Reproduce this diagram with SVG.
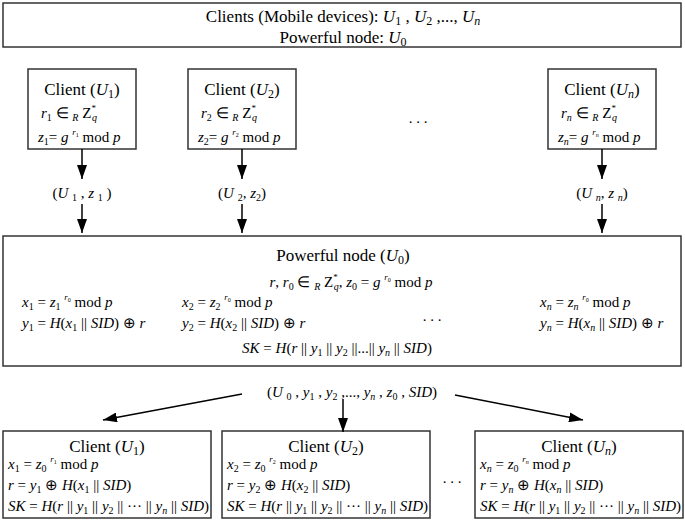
<svg xmlns="http://www.w3.org/2000/svg" width="685" height="521" viewBox="0 0 685 521">
<defs>
<style>
text { font-family: "Liberation Serif", "Times New Roman", serif; fill: #000; }
.t { font-size: 17px; }
.f { font-size: 15px; }
.i { font-style: italic; }
.sb { font-size: 10px; baseline-shift: -3px; }
.tb { font-size: 12px; baseline-shift: -3px; }
.sp { font-size: 9px; baseline-shift: 7px; }
.ss { font-size: 6px; baseline-shift: 5px; }
.box { fill: #fff; stroke: #333; stroke-width: 1.5; }
.arr { stroke: #000; stroke-width: 1.5; fill: none; marker-end: url(#ah); }
</style>
<marker id="ah" viewBox="0 0 14 10" markerWidth="14" markerHeight="10" refX="14" refY="5" orient="auto" markerUnits="userSpaceOnUse">
<path d="M0,0 L14,5 L0,10 z" fill="#000"/>
</marker>
</defs>
<rect width="685" height="521" fill="#fff"/>

<g id="header">
<rect class="box" x="3" y="3" width="678" height="44"/>
<text class="t" x="343" y="22" text-anchor="middle">Clients (Mobile devices): <tspan class="i">U</tspan><tspan class="tb">1</tspan> , <tspan class="i">U</tspan><tspan class="tb">2</tspan> ,..., <tspan class="i">U</tspan><tspan class="tb i">n</tspan></text>
<text class="t" x="343" y="43" text-anchor="middle">Powerful node: <tspan class="i">U</tspan><tspan class="tb">0</tspan></text>
</g>

<g id="client1">
<rect class="box" x="28" y="69" width="108" height="80"/>
<text class="t" x="82" y="95" text-anchor="middle">Client (<tspan class="i">U</tspan><tspan class="tb">1</tspan>)</text>
<text class="f" x="41" y="118"><tspan class="i">r</tspan><tspan class="sb">1</tspan> ∈ <tspan class="sb i">R</tspan> Z<tspan class="sp">*</tspan><tspan class="sb i" dx="-4">q</tspan></text>
<text class="f" x="38" y="142"><tspan class="i">z</tspan><tspan class="sb">1</tspan>= <tspan class="i">g</tspan> <tspan class="sp i">r</tspan><tspan class="ss">1</tspan> mod <tspan class="i">p</tspan></text>
</g>

<g id="client2">
<rect class="box" x="188" y="69" width="108" height="80"/>
<text class="t" x="242" y="95" text-anchor="middle">Client (<tspan class="i">U</tspan><tspan class="tb">2</tspan>)</text>
<text class="f" x="201" y="118"><tspan class="i">r</tspan><tspan class="sb">2</tspan> ∈ <tspan class="sb i">R</tspan> Z<tspan class="sp">*</tspan><tspan class="sb i" dx="-4">q</tspan></text>
<text class="f" x="198" y="142"><tspan class="i">z</tspan><tspan class="sb">2</tspan>= <tspan class="i">g</tspan> <tspan class="sp i">r</tspan><tspan class="ss">2</tspan> mod <tspan class="i">p</tspan></text>
</g>

<g id="clientn">
<rect class="box" x="548" y="69" width="108" height="80"/>
<text class="t" x="602" y="95" text-anchor="middle">Client (<tspan class="i">U</tspan><tspan class="tb i">n</tspan>)</text>
<text class="f" x="561" y="118"><tspan class="i">r</tspan><tspan class="sb i">n</tspan> ∈ <tspan class="sb i">R</tspan> Z<tspan class="sp">*</tspan><tspan class="sb i" dx="-4">q</tspan></text>
<text class="f" x="558" y="142"><tspan class="i">z</tspan><tspan class="sb i">n</tspan>= <tspan class="i">g</tspan> <tspan class="sp i">r</tspan><tspan class="ss i">n</tspan> mod <tspan class="i">p</tspan></text>
</g>

<text class="f" x="418" y="123" text-anchor="middle">. . .</text>

<g id="powerful">
<rect class="box" x="3" y="236" width="678" height="130"/>
<text class="t" x="343" y="261" text-anchor="middle">Powerful node (<tspan class="i">U</tspan><tspan class="tb">0</tspan>)</text>
<text class="f" x="351" y="287" text-anchor="middle"><tspan class="i">r</tspan>, <tspan class="i">r</tspan><tspan class="sb">0</tspan> ∈ <tspan class="sb i">R</tspan> Z<tspan class="sp">*</tspan><tspan class="sb i" dx="-4">q</tspan>, <tspan class="i">z</tspan><tspan class="sb">0</tspan> = <tspan class="i">g</tspan> <tspan class="sp i">r</tspan><tspan class="ss">0</tspan> mod <tspan class="i">p</tspan></text>
<text class="f" x="22" y="307"><tspan class="i">x</tspan><tspan class="sb">1</tspan> = <tspan class="i">z</tspan><tspan class="sb">1</tspan> <tspan class="sp i">r</tspan><tspan class="ss">0</tspan> mod <tspan class="i">p</tspan></text>
<text class="f" x="22" y="328"><tspan class="i">y</tspan><tspan class="sb">1</tspan> = <tspan class="i">H</tspan>(<tspan class="i">x</tspan><tspan class="sb">1</tspan> || <tspan class="i">SID</tspan>) ⊕ <tspan class="i">r</tspan></text>
<text class="f" x="182" y="307"><tspan class="i">x</tspan><tspan class="sb">2</tspan> = <tspan class="i">z</tspan><tspan class="sb">2</tspan> <tspan class="sp i">r</tspan><tspan class="ss">0</tspan> mod <tspan class="i">p</tspan></text>
<text class="f" x="182" y="328"><tspan class="i">y</tspan><tspan class="sb">2</tspan> = <tspan class="i">H</tspan>(<tspan class="i">x</tspan><tspan class="sb">2</tspan> || <tspan class="i">SID</tspan>) ⊕ <tspan class="i">r</tspan></text>
<text class="f" x="432" y="321" text-anchor="middle">. . .</text>
<text class="f" x="540" y="307"><tspan class="i">x</tspan><tspan class="sb i">n</tspan> = <tspan class="i">z</tspan><tspan class="sb i">n</tspan> <tspan class="sp i">r</tspan><tspan class="ss">0</tspan> mod <tspan class="i">p</tspan></text>
<text class="f" x="540" y="328"><tspan class="i">y</tspan><tspan class="sb i">n</tspan> = <tspan class="i">H</tspan>(<tspan class="i">x</tspan><tspan class="sb i">n</tspan> || <tspan class="i">SID</tspan>) ⊕ <tspan class="i">r</tspan></text>
<text class="f" x="337" y="353" text-anchor="middle"><tspan class="i">SK</tspan> = <tspan class="i">H</tspan>(<tspan class="i">r</tspan> || <tspan class="i">y</tspan><tspan class="sb">1</tspan> || <tspan class="i">y</tspan><tspan class="sb">2</tspan> ||...|| <tspan class="i">y</tspan><tspan class="sb i">n</tspan> || <tspan class="i">SID</tspan>)</text>
</g>

<g id="bclient1">
<rect class="box" x="3" y="431" width="208" height="87"/>
<text class="t" x="107" y="452" text-anchor="middle">Client (<tspan class="i">U</tspan><tspan class="tb">1</tspan>)</text>
<text class="f" x="8" y="469"><tspan class="i">x</tspan><tspan class="sb">1</tspan> = <tspan class="i">z</tspan><tspan class="sb">0</tspan> <tspan class="sp i">r</tspan><tspan class="ss">1</tspan> mod <tspan class="i">p</tspan></text>
<text class="f" x="8" y="490"><tspan class="i">r</tspan> = <tspan class="i">y</tspan><tspan class="sb">1</tspan> ⊕ <tspan class="i">H</tspan>(<tspan class="i">x</tspan><tspan class="sb">1</tspan> || <tspan class="i">SID</tspan>)</text>
<text class="f" x="8" y="511"><tspan class="i">SK</tspan> = <tspan class="i">H</tspan>(<tspan class="i">r</tspan> || <tspan class="i">y</tspan><tspan class="sb">1</tspan> || <tspan class="i">y</tspan><tspan class="sb">2</tspan> || ··· || <tspan class="i">y</tspan><tspan class="sb i">n</tspan> || <tspan class="i">SID</tspan>)</text>
</g>

<g id="bclient2">
<rect class="box" x="222" y="431" width="208" height="87"/>
<text class="t" x="326" y="452" text-anchor="middle">Client (<tspan class="i">U</tspan><tspan class="tb">2</tspan>)</text>
<text class="f" x="227" y="469"><tspan class="i">x</tspan><tspan class="sb">2</tspan> = <tspan class="i">z</tspan><tspan class="sb">0</tspan> <tspan class="sp i">r</tspan><tspan class="ss">2</tspan> mod <tspan class="i">p</tspan></text>
<text class="f" x="227" y="490"><tspan class="i">r</tspan> = <tspan class="i">y</tspan><tspan class="sb">2</tspan> ⊕ <tspan class="i">H</tspan>(<tspan class="i">x</tspan><tspan class="sb">2</tspan> || <tspan class="i">SID</tspan>)</text>
<text class="f" x="227" y="511"><tspan class="i">SK</tspan> = <tspan class="i">H</tspan>(<tspan class="i">r</tspan> || <tspan class="i">y</tspan><tspan class="sb">1</tspan> || <tspan class="i">y</tspan><tspan class="sb">2</tspan> || ··· || <tspan class="i">y</tspan><tspan class="sb i">n</tspan> || <tspan class="i">SID</tspan>)</text>
</g>

<text class="f" x="452" y="483" text-anchor="middle">. . .</text>

<g id="bclientn">
<rect class="box" x="475" y="431" width="208" height="87"/>
<text class="t" x="579" y="452" text-anchor="middle">Client (<tspan class="i">U</tspan><tspan class="tb i">n</tspan>)</text>
<text class="f" x="480" y="469"><tspan class="i">x</tspan><tspan class="sb i">n</tspan> = <tspan class="i">z</tspan><tspan class="sb">0</tspan> <tspan class="sp i">r</tspan><tspan class="ss i">n</tspan> mod <tspan class="i">p</tspan></text>
<text class="f" x="480" y="490"><tspan class="i">r</tspan> = <tspan class="i">y</tspan><tspan class="sb i">n</tspan> ⊕ <tspan class="i">H</tspan>(<tspan class="i">x</tspan><tspan class="sb i">n</tspan> || <tspan class="i">SID</tspan>)</text>
<text class="f" x="480" y="511"><tspan class="i">SK</tspan> = <tspan class="i">H</tspan>(<tspan class="i">r</tspan> || <tspan class="i">y</tspan><tspan class="sb">1</tspan> || <tspan class="i">y</tspan><tspan class="sb">2</tspan> || ··· || <tspan class="i">y</tspan><tspan class="sb i">n</tspan> || <tspan class="i">SID</tspan>)</text>
</g>

<g id="connectors">
<line class="arr" x1="82" y1="149" x2="82" y2="179"/>
<line class="arr" x1="82" y1="204" x2="82" y2="233"/>
<line class="arr" x1="242" y1="149" x2="242" y2="179"/>
<line class="arr" x1="242" y1="204" x2="242" y2="233"/>
<line class="arr" x1="602" y1="149" x2="602" y2="179"/>
<line class="arr" x1="602" y1="204" x2="602" y2="233"/>
<text class="f" x="82" y="198" text-anchor="middle">(<tspan class="i">U</tspan> <tspan class="sb">1</tspan> , <tspan class="i">z</tspan> <tspan class="sb">1</tspan> )</text>
<text class="f" x="242" y="198" text-anchor="middle">(<tspan class="i">U</tspan> <tspan class="sb">2</tspan>, <tspan class="i">z</tspan><tspan class="sb">2</tspan>)</text>
<text class="f" x="602" y="198" text-anchor="middle">(<tspan class="i">U</tspan> <tspan class="sb i">n</tspan>, <tspan class="i">z</tspan> <tspan class="sb i">n</tspan>)</text>
<text class="f" x="352" y="397" text-anchor="middle">(<tspan class="i">U</tspan> <tspan class="sb">0</tspan> , <tspan class="i">y</tspan><tspan class="sb">1</tspan> , <tspan class="i">y</tspan><tspan class="sb">2</tspan> ,..., <tspan class="i">y</tspan><tspan class="sb i">n</tspan> , <tspan class="i">z</tspan><tspan class="sb">0</tspan> , <tspan class="i">SID</tspan>)</text>
<line class="arr" x1="242" y1="394" x2="103" y2="420"/>
<line class="arr" x1="343" y1="399" x2="343" y2="432"/>
<line class="arr" x1="455" y1="395" x2="583" y2="420"/>
</g>
</svg>
